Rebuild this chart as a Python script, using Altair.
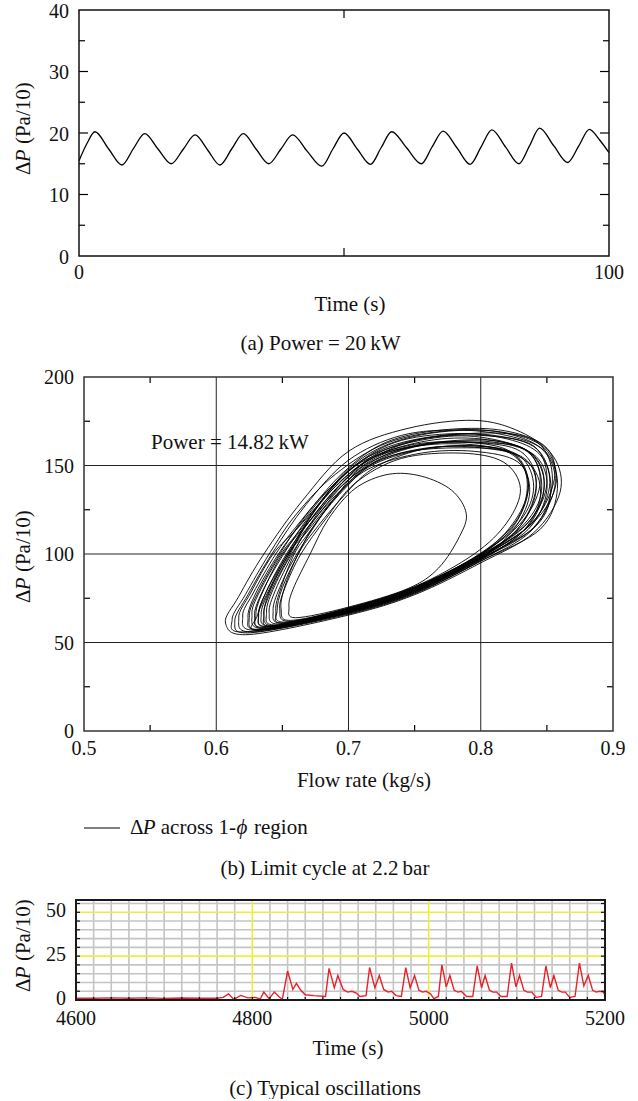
import altair as alt
import pandas as pd

FONT = "Liberation Serif"
TXT = "#111111"

# ---------------- Panel (a): Power = 20 kW ----------------
a_time = [0, 1.5, 3.0, 5.6, 8.1, 10.3, 12.4, 14.9, 17.4, 19.7, 21.9, 24.3, 26.6, 28.8,
          31.0, 33.4, 35.8, 38.1, 40.3, 43.0, 45.8, 47.9, 50.0, 52.5, 55.0, 57.0, 59.0,
          61.8, 64.6, 66.6, 68.7, 71.3, 73.8, 75.9, 77.9, 80.5, 83.0, 85.0, 86.9, 89.6,
          92.2, 94.3, 96.3, 98.2, 100]
a_dp = [15.5, 18.3, 20.2, 17.4, 14.8, 17.5, 19.9, 17.4, 15.0, 17.4, 19.7, 17.2, 14.8, 17.4,
        19.9, 17.4, 15.0, 17.4, 19.7, 17.1, 14.6, 17.4, 20.0, 17.4, 14.9, 17.6, 20.2,
        17.6, 15.0, 17.7, 20.3, 17.6, 14.9, 17.8, 20.5, 17.7, 15.0, 17.9, 20.8, 17.9,
        15.2, 17.9, 20.6, 18.9, 16.8]
a_xlabels = [0, 100]
a_ylabels = [0, 10, 20, 30, 40]
a_xticks = [50]
a_ymajor = [10, 20, 30]
a_yminor = [5, 15, 25, 35]

# ---------------- Panel (b): limit cycle ----------------
loop_01 = [(0.625, 54.5), (0.70, 65.5), (0.75, 77), (0.80, 95), (0.84, 112), (0.86, 135), (0.855, 155),
           (0.83, 169), (0.795, 175.5), (0.745, 171), (0.70, 158), (0.665, 130), (0.636, 100), (0.617, 76), (0.607, 61)]
loop_02 = [(0.622, 56), (0.70, 66.5), (0.75, 78), (0.80, 96), (0.838, 113), (0.856, 138), (0.848, 158),
           (0.82, 168), (0.78, 170), (0.73, 163), (0.69, 145), (0.66, 122), (0.64, 100), (0.622, 77), (0.612, 63)]
loop_03 = [(0.63, 57), (0.70, 67), (0.75, 79), (0.80, 97), (0.835, 115), (0.848, 138), (0.838, 157),
           (0.80, 166), (0.76, 165), (0.715, 155), (0.683, 135), (0.66, 115), (0.645, 100), (0.628, 78), (0.62, 65)]
loop_04 = [(0.636, 58), (0.70, 67.5), (0.75, 79.5), (0.80, 98), (0.83, 116), (0.842, 140), (0.83, 158),
           (0.795, 163), (0.75, 162), (0.71, 152), (0.685, 135), (0.665, 115), (0.649, 100), (0.633, 79), (0.627, 66)]
loop_05 = [(0.64, 59), (0.70, 68), (0.75, 80), (0.80, 99), (0.833, 117), (0.846, 136), (0.838, 156),
           (0.81, 164), (0.765, 163), (0.725, 156), (0.695, 140), (0.672, 120), (0.653, 100), (0.638, 79), (0.632, 66)]
loop_06 = [(0.645, 60), (0.70, 68.5), (0.75, 80.5), (0.797, 98), (0.826, 117), (0.836, 140), (0.822, 157),
           (0.785, 160), (0.74, 157), (0.705, 145), (0.68, 125), (0.657, 100), (0.643, 80), (0.638, 67)]
loop_07 = [(0.65, 61), (0.70, 69), (0.75, 81), (0.80, 100), (0.83, 119), (0.84, 138), (0.83, 155),
           (0.80, 161), (0.755, 159), (0.715, 149), (0.688, 130), (0.661, 100), (0.648, 81), (0.643, 68)]
loop_08 = [(0.655, 62), (0.70, 69.5), (0.75, 81.5), (0.795, 100), (0.82, 118), (0.83, 137), (0.817, 152),
           (0.785, 157), (0.74, 154), (0.705, 140), (0.683, 120), (0.664, 100), (0.652, 81), (0.648, 69)]
loop_09 = [(0.633, 57.5), (0.70, 67), (0.75, 78.5), (0.80, 97.5), (0.842, 116), (0.853, 137), (0.843, 159),
           (0.81, 167), (0.77, 167), (0.725, 159), (0.69, 140), (0.665, 118), (0.647, 100), (0.63, 78), (0.624, 64)]
loop_10 = [(0.66, 64), (0.70, 70), (0.745, 80.5), (0.768, 92), (0.784, 110), (0.789, 123), (0.778, 136),
           (0.755, 144), (0.73, 145), (0.705, 137), (0.685, 120), (0.671, 100), (0.658, 80), (0.655, 70)]
loop_11 = [(0.642, 59.5), (0.70, 68), (0.75, 79.5), (0.80, 98.5), (0.84, 118), (0.857, 140), (0.848, 160),
           (0.815, 169), (0.77, 169), (0.73, 162), (0.70, 148), (0.675, 125), (0.655, 100), (0.64, 79), (0.634, 66)]
loop_12 = [(0.632, 57), (0.70, 67), (0.75, 78.5), (0.80, 97.5), (0.826, 115), (0.837, 135), (0.828, 152),
           (0.795, 158), (0.755, 157), (0.715, 148), (0.69, 132), (0.668, 112), (0.654, 100), (0.64, 80), (0.631, 65)]
loop_13 = [(0.648, 60.5), (0.70, 68.5), (0.75, 80.5), (0.80, 99.5), (0.836, 118), (0.85, 140), (0.84, 161),
           (0.80, 167), (0.755, 165), (0.72, 156), (0.695, 140), (0.672, 118), (0.658, 100), (0.645, 80), (0.64, 67)]
loop_14 = [(0.628, 56), (0.70, 66.5), (0.75, 78), (0.80, 96.5), (0.832, 113), (0.845, 132), (0.838, 150),
           (0.81, 160), (0.765, 162), (0.72, 155), (0.69, 138), (0.662, 115), (0.643, 100), (0.626, 78), (0.617, 64)]
loop_15 = [(0.652, 61.5), (0.70, 69), (0.75, 81), (0.80, 100.5), (0.828, 120), (0.835, 142), (0.822, 158),
           (0.79, 163), (0.75, 161), (0.712, 150), (0.69, 132), (0.67, 112), (0.659, 100), (0.649, 81), (0.645, 68)]
loop_16 = [(0.638, 58.5), (0.70, 67.5), (0.75, 79), (0.80, 98), (0.838, 117), (0.852, 138), (0.845, 156),
           (0.82, 165), (0.78, 168), (0.735, 163), (0.70, 147), (0.672, 123), (0.651, 100), (0.635, 79), (0.629, 65)]
loop_17 = [(0.645, 59.5), (0.70, 68), (0.75, 80), (0.80, 99), (0.835, 117), (0.848, 139), (0.836, 158),
           (0.80, 165), (0.76, 164), (0.72, 155), (0.692, 138), (0.668, 116), (0.656, 100), (0.642, 80), (0.636, 66)]
loop_18 = [(0.637, 58), (0.70, 67.5), (0.75, 79), (0.80, 97.5), (0.836, 114), (0.85, 136), (0.842, 155),
           (0.812, 163), (0.77, 163), (0.728, 156), (0.697, 140), (0.67, 118), (0.65, 100), (0.636, 80), (0.63, 66)]
loop_19 = [(0.65, 61), (0.70, 69), (0.75, 81), (0.80, 100), (0.832, 119), (0.845, 141), (0.834, 159),
           (0.80, 163), (0.76, 162), (0.722, 153), (0.696, 136), (0.674, 116), (0.662, 100), (0.65, 81), (0.646, 68)]
loop_20 = [(0.626, 55.5), (0.70, 66), (0.75, 77.5), (0.80, 96), (0.845, 114), (0.858, 137), (0.85, 157),
           (0.825, 166), (0.785, 170), (0.74, 167), (0.70, 153), (0.668, 128), (0.642, 100), (0.624, 77), (0.614, 62)]
loop_21 = [(0.643, 59), (0.70, 68), (0.75, 80), (0.80, 98.5), (0.83, 116), (0.842, 137), (0.833, 154),
           (0.80, 160), (0.76, 160), (0.72, 152), (0.694, 136), (0.668, 114), (0.655, 100), (0.641, 80), (0.636, 66)]
loop_22 = [(0.634, 57), (0.70, 67), (0.75, 79), (0.80, 97), (0.84, 115), (0.854, 139), (0.846, 161),
           (0.815, 170), (0.77, 170), (0.728, 163), (0.696, 146), (0.668, 122), (0.648, 100), (0.632, 79), (0.625, 65)]
loop_23 = [(0.656, 62.5), (0.70, 69.5), (0.75, 81.5), (0.80, 100), (0.826, 119), (0.836, 139), (0.826, 156),
           (0.795, 161), (0.755, 159), (0.718, 148), (0.693, 130), (0.673, 112), (0.662, 100), (0.652, 82), (0.649, 69)]
loop_24 = [(0.64, 59), (0.70, 68), (0.75, 79.5), (0.80, 98), (0.838, 117), (0.855, 140), (0.852, 158),
           (0.83, 167), (0.79, 168), (0.745, 163), (0.705, 148), (0.676, 126), (0.654, 100), (0.638, 79), (0.632, 65)]
LOOPS = [loop_01, loop_02, loop_03, loop_04, loop_05, loop_06, loop_07, loop_08,
         loop_09, loop_10, loop_11, loop_12, loop_13, loop_14, loop_15, loop_16,
         loop_17, loop_18, loop_19, loop_20, loop_21, loop_22, loop_23, loop_24]
b_xlabels = [0.5, 0.6, 0.7, 0.8, 0.9]
b_ylabels = [0, 50, 100, 150, 200]
b_xgrid = [0.6, 0.7, 0.8]
b_ygrid = [50, 100, 150]
b_xminor = [0.55, 0.65, 0.75, 0.85]
b_yminor = [25, 75, 125, 175]

# ---------------- Panel (c): typical oscillations ----------------
c_time = [4600, 4620, 4640, 4660, 4680, 4700, 4720, 4740, 4760, 4767, 4773, 4779, 4787, 4795, 4803,
          4809, 4813, 4819, 4825, 4830, 4834, 4840, 4846, 4850, 4855, 4860, 4870, 4883, 4887, 4893,
          4897, 4903, 4908, 4913, 4918, 4922, 4929, 4933, 4939, 4944, 4949, 4954, 4958, 4963, 4969,
          4974, 4979, 4984, 4989, 4993, 4997, 5002, 5006, 5011, 5015, 5020, 5024, 5029, 5033, 5037,
          5043, 5050, 5055, 5060, 5064, 5069, 5073, 5077, 5082, 5089, 5094, 5099, 5103, 5108, 5112,
          5117, 5122, 5128, 5133, 5138, 5142, 5147, 5151, 5155, 5160, 5166, 5171, 5176, 5181, 5186,
          5190, 5194, 5198, 5200]
c_dp = [1.0, 1.0, 1.2, 1.0, 1.2, 0.9, 1.1, 1.0, 1.0, 1.5, 3.5, 0.3, 2.6, 1.2, 1.5,
        0.6, 4.5, 0.8, 4.5, 2.0, 0.3, 16.5, 6.0, 9.5, 5.5, 3.0, 2.5, 2.0, 18.0, 7.0,
        14.0, 6.0, 4.5, 5.0, 4.0, 2.0, 2.5, 18.5, 7.0, 14.0, 6.0, 4.5, 5.0, 2.5, 2.0,
        18.5, 7.0, 14.0, 5.5, 4.5, 5.0, 3.5, 0.8, 2.0, 20.0, 7.5, 14.0, 5.5, 4.5, 5.0,
        2.0, 2.0, 19.5, 7.0, 14.0, 5.5, 4.5, 4.5, 2.0, 2.0, 21.0, 7.5, 14.0, 5.5, 4.5,
        4.5, 1.5, 2.0, 19.5, 7.0, 14.0, 5.5, 4.5, 4.5, 1.5, 2.0, 21.0, 8.0, 14.0, 5.5,
        4.5, 5.0, 4.5, 3.0]
c_xlabels = [4600, 4800, 5000, 5200]
c_ylabels = [0, 25, 50]
c_xgrid_grey = [t for t in range(4620, 5200, 20) if t not in (4800, 5000)]
c_xgrid_yellow = [4800, 5000]
c_ygrid_grey = [5, 10, 15, 20, 30, 35, 40, 45, 55]
c_ygrid_yellow = [25, 50]
c_xticks = list(range(4620, 5200, 20))
c_yticks = [5, 10, 15, 20, 25, 30, 35, 40, 45, 50, 55]

W = 537
HA, HB, HC = 246, 354, 100
dummy = pd.DataFrame({"d": [0]})


def text(t, x, y, size=21, style="normal", angle=None, align="center"):
    kw = dict(text=t, font=FONT, fontSize=size, fontStyle=style, align=align,
              baseline="middle", color=TXT)
    if angle is not None:
        kw["angle"] = angle
    return alt.Chart(dummy).mark_text(**kw).encode(x=alt.value(x), y=alt.value(y))


def ytitle(x, ybottom):
    return [
        text("Δ", x, ybottom, angle=270, align="left"),
        text("P", x, ybottom - 12.8, style="italic", angle=270, align="left"),
        text("(Pa/10)", x, ybottom - 12.8 - 12.8 - 5.3, angle=270, align="left"),
    ]


def vals(v):
    return pd.DataFrame({"v": v})


def xlabels(values, strings, xs, ypix):
    df = pd.DataFrame({"v": values, "s": strings})
    return alt.Chart(df).mark_text(font=FONT, fontSize=20, color=TXT, baseline="middle",
                                   align="center").encode(
        x=alt.X("v:Q", scale=xs, axis=None), y=alt.value(ypix), text="s:N")


def ylabels(values, strings, ys, xpix, dy=1.0):
    df = pd.DataFrame({"v": values, "s": strings})
    return alt.Chart(df).mark_text(font=FONT, fontSize=20, color=TXT, baseline="middle",
                                   align="right", dy=dy).encode(
        y=alt.Y("v:Q", scale=ys, axis=None), x=alt.value(xpix), text="s:N")


def xticks(values, xs, length, h, top=True, color="black", width=1.2):
    df = vals(values)
    layers = [alt.Chart(df).mark_rule(color=color, strokeWidth=width).encode(
        x=alt.X("v:Q", scale=xs, axis=None), y=alt.value(h), y2=alt.value(h - length))]
    if top:
        layers.append(alt.Chart(df).mark_rule(color=color, strokeWidth=width).encode(
            x=alt.X("v:Q", scale=xs, axis=None), y=alt.value(0), y2=alt.value(length)))
    return layers


def yticks(values, ys, x0, x1, length, color="black", width=1.2):
    df = vals(values)
    return [
        alt.Chart(df).mark_rule(color=color, strokeWidth=width).encode(
            y=alt.Y("v:Q", scale=ys, axis=None), x=alt.value(x0), x2=alt.value(x0 + length)),
        alt.Chart(df).mark_rule(color=color, strokeWidth=width).encode(
            y=alt.Y("v:Q", scale=ys, axis=None), x=alt.value(x1 - length), x2=alt.value(x1)),
    ]


def frame(xd, yd, xs, ys, color, width):
    df = pd.DataFrame({"x0": [xd[0]], "x1": [xd[1]], "y0": [yd[0]], "y1": [yd[1]]})
    return alt.Chart(df).mark_rect(fillOpacity=0, stroke=color, strokeWidth=width).encode(
        x=alt.X("x0:Q", scale=xs, axis=None), x2="x1:Q",
        y=alt.Y("y0:Q", scale=ys, axis=None), y2="y1:Q")


def spacer(h):
    return alt.Chart(dummy).mark_point(opacity=0).encode(
        x=alt.value(0), y=alt.value(0)).properties(width=W, height=h)


# ----- Panel (a)
xa = alt.Scale(domain=[0, 100], range=[3, 533], nice=False, zero=False)
ya = alt.Scale(domain=[0, 40], nice=False, zero=False)
df_a = pd.DataFrame({"t": a_time, "v": a_dp})
line_a = alt.Chart(df_a).mark_line(color="black", strokeWidth=1.3, interpolate="monotone").encode(
    x=alt.X("t:Q", scale=xa, axis=None),
    y=alt.Y("v:Q", scale=ya, axis=None))
anchor = alt.Chart(dummy).mark_rect(color="white").encode(
    x=alt.value(-76), x2=alt.value(-72), y=alt.value(-10), y2=alt.value(-6))
layers_a = [anchor, line_a]
layers_a += xticks(a_xticks, xa, 8, HA)
layers_a += yticks(a_ymajor, ya, 3, 533, 9)
layers_a += yticks(a_yminor, ya, 3, 533, 6)
layers_a.append(frame([0, 100], [0, 40], xa, ya, "#111", 1.5))
layers_a.append(xlabels(a_xlabels, [str(v) for v in a_xlabels], xa, HA + 16.5))
layers_a.append(ylabels(a_ylabels, [str(v) for v in a_ylabels], ya, -7, dy=1.5))
layers_a += ytitle(-52, 165)
layers_a.append(text("Time (s)", 274, 294.5))
layers_a.append(text("(a)  Power = 20\u2009kW", 244.5, 334))
panel_a = alt.layer(*layers_a).properties(width=W, height=HA)

# ----- Panel (b)
xb = alt.Scale(domain=[0.5, 0.9], range=[8, 537], nice=False, zero=False)
yb = alt.Scale(domain=[0, 200], nice=False, zero=False)
rows = []
for k, loop in enumerate(LOOPS):
    for i, (fx, fy) in enumerate(loop):
        rows.append({"loop": k, "i": i, "f": fx, "p": fy})
df_b = pd.DataFrame(rows)
grid_bx = alt.Chart(vals(b_xgrid)).mark_rule(color="#222", strokeWidth=1).encode(
    x=alt.X("v:Q", scale=xb, axis=None), y=alt.value(0), y2=alt.value(HB))
grid_by = alt.Chart(vals(b_ygrid)).mark_rule(color="#222", strokeWidth=1).encode(
    y=alt.Y("v:Q", scale=yb, axis=None), x=alt.value(8), x2=alt.value(537))
loops_b = alt.Chart(df_b).mark_line(color="black", strokeWidth=0.9, interpolate="cardinal-closed").encode(
    x=alt.X("f:Q", scale=xb, axis=None),
    y=alt.Y("p:Q", scale=yb, axis=None),
    detail="loop:N", order="i:Q")
layers_b = [grid_bx, grid_by, loops_b]
layers_b += xticks(b_xminor, xb, 6, HB)
layers_b += yticks(b_yminor, yb, 8, 537, 6)
layers_b.append(frame([0.5, 0.9], [0, 200], xb, yb, "#333", 1.5))
layers_b.append(xlabels(b_xlabels, ["%.1f" % v for v in b_xlabels], xb, HB + 18))
layers_b.append(ylabels(b_ylabels, [str(v) for v in b_ylabels], yb, -2))
layers_b += ytitle(-52, 226)
layers_b.append(text("Power = 14.82\u2009kW", 75, 66, align="left"))
layers_b.append(text("Flow rate (kg/s)", 288, 403.5))
layers_b.append(alt.Chart(dummy).mark_rule(color="black", strokeWidth=1.2).encode(
    x=alt.value(8), x2=alt.value(44), y=alt.value(451)))
layers_b.append(text("Δ", 54, 451, align="left"))
layers_b.append(text("P", 66.8, 451, style="italic", align="left"))
layers_b.append(text("across 1-", 84.8, 451, align="left"))
layers_b.append(text("ϕ", 160.5, 451, style="italic", align="left"))
layers_b.append(text("region", 178, 451, align="left"))
layers_b.append(text("(b)  Limit cycle at 2.2\u2009bar", 249, 492))
panel_b = alt.layer(*layers_b).properties(width=W, height=HB)

# ----- Panel (c)
xc = alt.Scale(domain=[4600, 5200], range=[0, 529], nice=False, zero=False)
yc = alt.Scale(domain=[0, 57], nice=False, zero=False)
df_c = pd.DataFrame({"t": c_time, "v": c_dp})
layers_c = [
    alt.Chart(vals(c_xgrid_grey)).mark_rule(color="#c4c4c4", strokeWidth=1.6).encode(
        x=alt.X("v:Q", scale=xc, axis=None), y=alt.value(0), y2=alt.value(HC)),
    alt.Chart(vals(c_ygrid_grey)).mark_rule(color="#c4c4c4", strokeWidth=1.6).encode(
        y=alt.Y("v:Q", scale=yc, axis=None), x=alt.value(0), x2=alt.value(529)),
    alt.Chart(vals(c_xgrid_yellow)).mark_rule(color="#eeee3a", strokeWidth=1.6).encode(
        x=alt.X("v:Q", scale=xc, axis=None), y=alt.value(0), y2=alt.value(HC)),
    alt.Chart(vals(c_ygrid_yellow)).mark_rule(color="#eeee3a", strokeWidth=1.6).encode(
        y=alt.Y("v:Q", scale=yc, axis=None), x=alt.value(0), x2=alt.value(529)),
    alt.Chart(df_c).mark_line(color="#e8222a", strokeWidth=1.4).encode(
        x=alt.X("t:Q", scale=xc, axis=None),
        y=alt.Y("v:Q", scale=yc, axis=None)),
]
layers_c += xticks(c_xticks, xc, 3, HC, top=False, color="#111", width=1.2)
layers_c += yticks(c_yticks, yc, 0, 529, 4, color="#111", width=1.2)
layers_c.append(frame([4600, 5200], [0, 57], xc, yc, "#1a1a1a", 2))
layers_c.append(xlabels(c_xlabels, [str(v) for v in c_xlabels], xc, HC + 18.5))
layers_c.append(ylabels(c_ylabels, [str(v) for v in c_ylabels], yc, -10, dy=-1.5))
layers_c += ytitle(-52, 92)
layers_c.append(text("Time (s)", 272, 149))
layers_c.append(text("(c)  Typical oscillations", 249, 189))
panel_c = alt.layer(*layers_c).properties(width=W, height=HC)

chart = alt.vconcat(panel_a, spacer(121), panel_b, spacer(169), panel_c,
                    spacing=0, bounds="flush").properties(
    padding=0).configure_view(stroke=None)

chart.save("out.html", embed_options={"renderer": "svg", "actions": False})
